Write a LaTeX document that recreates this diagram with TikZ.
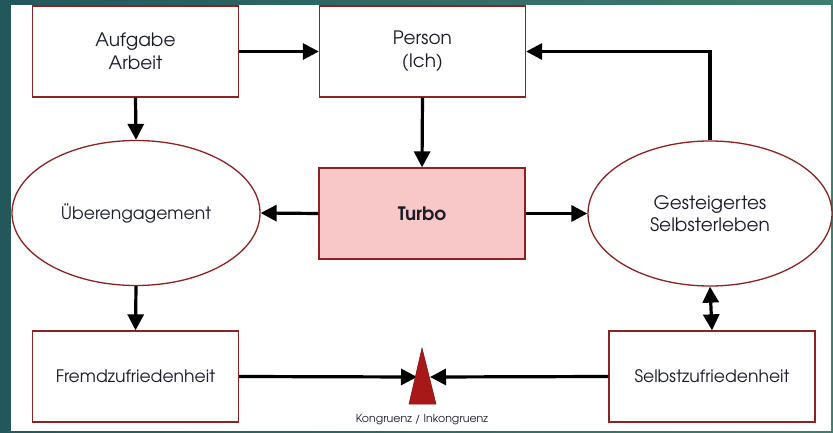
\documentclass[tikz,border=0pt]{standalone}
\usepackage{fontspec}
\setmainfont{TeX Gyre Adventor}
\usetikzlibrary{arrows.meta,shapes.geometric}
\definecolor{bordred}{RGB}{142,34,34}
\definecolor{turbofill}{RGB}{248,199,199}
\definecolor{trired}{RGB}{168,24,24}
\definecolor{tealL}{RGB}{34,88,92}
\definecolor{tealR}{RGB}{62,126,110}
\definecolor{txt}{RGB}{26,28,40}
\begin{document}
\begin{tikzpicture}[x=1pt,y=-1pt,
  boxstyle/.style={draw=bordred,line width=1.3pt,fill=white,rectangle,minimum width=206pt,minimum height=91pt,inner sep=0pt,align=center,text=txt},
  ellstyle/.style={draw=bordred,line width=1.3pt,fill=white,ellipse,minimum width=248pt,minimum height=145pt,inner sep=0pt,align=center,text=txt},
  bigtext/.style={font=\fontsize{18.5}{22.5}\selectfont},
  midtext/.style={font=\fontsize{17.2}{20}\selectfont},
  conn/.style={line width=3.2pt,-{Triangle[length=16pt,width=16pt]}},
  dconn/.style={line width=3.2pt,{Triangle[length=16pt,width=16pt]}-{Triangle[length=16pt,width=16pt]}}
]
\useasboundingbox (0,0) rectangle (833,433);
\shade[left color=tealL,right color=tealR] (0,0) rectangle (833,433);
\fill[white] (11,5) rectangle (831,431);
\node[boxstyle,bigtext] (aufgabe) at (135.5,51.5) {Aufgabe\\Arbeit};
\node[boxstyle,bigtext] (person) at (422.5,51.5) {Person\\(Ich)};
\node[boxstyle,bigtext,fill=turbofill] (turbo) at (422,213.5) {\bfseries Turbo};
\node[ellstyle,midtext] (ueber) at (136,213) {Überengagement};
\node[ellstyle,bigtext,minimum width=244pt] (gest) at (710,213.5) {Gesteigertes\\Selbsterleben};
\node[boxstyle,midtext] (fremd) at (135.5,376.5) {Fremdzufriedenheit};
\node[boxstyle,midtext] (selbst) at (712,376.5) {Selbstzufriedenheit};
\coordinate (apex) at (422,348);
\coordinate (bl) at (409,404);
\coordinate (br) at (436,404);
\coordinate (kl) at (417,377);
\coordinate (kr) at (430,377);
\draw[conn] (fremd.east) -- (kl);
\draw[conn] (selbst.west) -- (kr);
\draw[draw=trired!80!black,fill=trired,line width=0.5pt] (apex) -- (bl) -- (br) -- cycle;
\node[text=txt,font=\fontsize{11}{13}\selectfont] (kong) at (422,420) {Kongruenz / Inkongruenz};
\draw[conn] (aufgabe.east) -- (person.west);
\draw[conn] (aufgabe.south) -- (ueber.north);
\draw[conn] (person.south) -- (turbo.north);
\draw[conn] (turbo.west) -- (ueber.east);
\draw[conn] (turbo.east) -- (gest.west);
\draw[conn] (gest.north) |- (person.east);
\draw[conn] (ueber.south) -- (fremd.north);
\draw[dconn] (gest.south) -- (selbst.north);
\end{tikzpicture}
\end{document}
